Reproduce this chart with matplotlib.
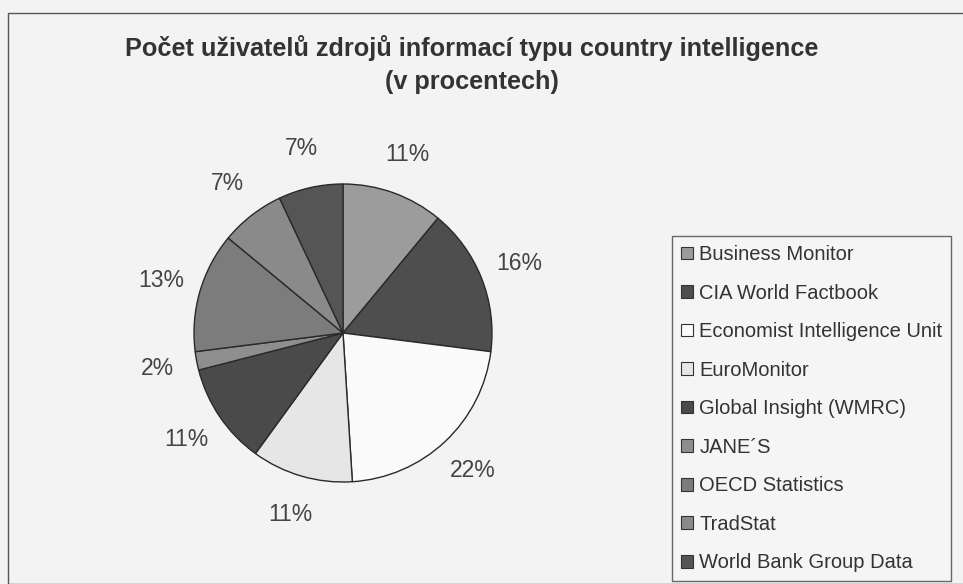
import matplotlib.pyplot as plt
from matplotlib.patches import Rectangle, Patch

sources = ['Business Monitor', 'CIA World Factbook', 'Economist Intelligence Unit',
           'EuroMonitor', 'Global Insight (WMRC)', 'JANE\u00b4S', 'OECD Statistics',
           'TradStat', 'World Bank Group Data']
shares = [11, 16, 22, 11, 11, 2, 13, 7, 7]
colors = ['#9c9c9c', '#4e4e4e', '#fafafa', '#e6e6e6', '#4a4a4a',
          '#8e8e8e', '#7c7c7c', '#8a8a8a', '#555555']
labels = ['%d%%' % s for s in shares]

plt.rcParams['font.family'] = ['Liberation Sans', 'DejaVu Sans']

fig = plt.figure(figsize=(9.63, 5.84), dpi=100, facecolor='#f3f3f3')

# chart frame
fig.patches.append(Rectangle((8 / 963, 0), 1, 1 - 13 / 584, transform=fig.transFigure,
                             fill=False, edgecolor='#555555', linewidth=1.0))

fig.text(472 / 963, 1 - 48 / 584, 'Počet uživatelů zdrojů informací typu country intelligence',
         ha='center', va='center', fontsize=18.2, fontweight='bold', color='#333333')
fig.text(472 / 963, 1 - 82 / 584, '(v procentech)',
         ha='center', va='center', fontsize=18.2, fontweight='bold', color='#333333')

cx, cy, r = 343, 333, 149
ax = fig.add_axes([(cx - r) / 963, (584 - cy - r) / 584, 2 * r / 963, 2 * r / 584])
wedges, texts = ax.pie(shares, labels=labels, colors=colors, startangle=90,
                       counterclock=False, labeldistance=1.27,
                       wedgeprops=dict(edgecolor='#2a2a2a', linewidth=1.0),
                       textprops=dict(fontsize=16.5, color='#444444'))
for t in texts:
    t.set_ha('center')
    t.set_va('center')
ax.set_xlim(-1, 1)
ax.set_ylim(-1, 1)
ax.set_aspect('equal')

handles = [Patch(facecolor=c, edgecolor='#333333', linewidth=0.8) for c in colors]
leg = fig.legend(handles, sources, loc='upper left',
                 bbox_to_anchor=(672 / 963, 1 - 236 / 584),
                 fontsize=14.5, frameon=True, fancybox=False,
                 handlelength=0.6, handleheight=0.6, handletextpad=0.3,
                 labelspacing=0.97, borderpad=0.45, borderaxespad=0)
leg.get_frame().set_edgecolor('#444444')
leg.get_frame().set_facecolor('#f6f6f6')
leg.get_frame().set_linewidth(1.0)
for t in leg.get_texts():
    t.set_color('#333333')

fig.savefig('out.png', dpi=100, facecolor=fig.get_facecolor())
